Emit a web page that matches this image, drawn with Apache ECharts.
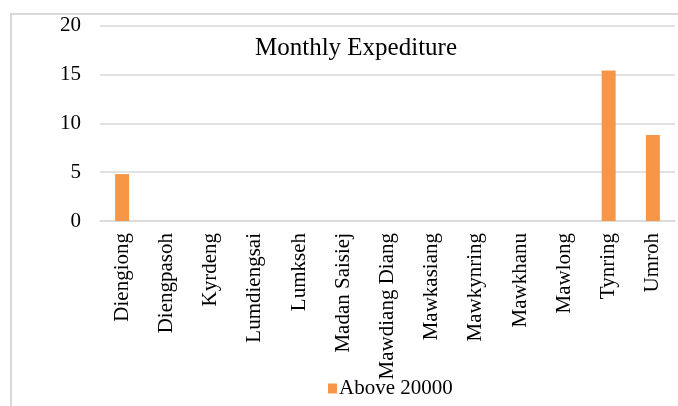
<!DOCTYPE html>
<html>
<head>
<meta charset="utf-8">
<script src="https://cdn.jsdelivr.net/npm/echarts@6/dist/echarts.min.js"></script>
<style>
  html, body { margin: 0; padding: 0; background: #fff; }
  #main { width: 678px; height: 406px; }
</style>
</head>
<body>
<div id="main"></div>
<script>
const categories = ["Diengiong", "Diengpasoh", "Kyrdeng", "Lumdiengsai", "Lumkseh", "Madan Saisiej",
  "Mawdiang Diang", "Mawkasiang", "Mawkynring", "Mawkhanu", "Mawlong", "Tynring", "Umroh"];
const above20000 = [4.8, 0, 0, 0, 0, 0, 0, 0, 0, 0, 0, 15.4, 8.8];
const yTicks = [0, 5, 10, 15, 20];

const font = "'Liberation Serif', 'DejaVu Serif', serif";
const chart = echarts.init(document.getElementById("main"));
chart.setOption({
  animation: false,
  textStyle: { fontFamily: font },
  graphic: [{
    type: "polyline",
    shape: { points: [[11, 420], [11, 14], [690, 14]] },
    style: { stroke: "#d9d9d9", lineWidth: 2, fill: null }
  }],
  title: {
    text: "Monthly Expediture",
    left: 351,
    top: 31,
    textAlign: "center",
    textStyle: { fontFamily: font, fontSize: 25, fontWeight: "normal", color: "#000" }
  },
  legend: {
    bottom: 2,
    left: 323,
    itemWidth: 9,
    itemHeight: 10,
    itemGap: 6,
    icon: "rect",
    textStyle: { fontFamily: font, fontSize: 21, color: "#000", padding: [0, 0, 0, -3] },
    data: ["Above 20000"]
  },
  grid: { left: 100, right: 3, top: 25.5, bottom: 185 },
  xAxis: {
    type: "category",
    data: categories,
    axisLine: { lineStyle: { color: "#d9d9d9", width: 1.5 } },
    axisTick: { show: false },
    axisLabel: {
      rotate: 90,
      interval: 0,
      margin: 12,
      fontFamily: font,
      fontSize: 21,
      color: "#000"
    }
  },
  yAxis: {
    type: "value",
    min: yTicks[0],
    max: yTicks[yTicks.length - 1],
    interval: 5,
    axisLine: { show: false },
    axisTick: { show: false },
    splitLine: { lineStyle: { color: "#d9d9d9", width: 1.5 } },
    axisLabel: { margin: 19, fontFamily: font, fontSize: 21, color: "#000" }
  },
  series: [{
    name: "Above 20000",
    type: "bar",
    data: above20000,
    barWidth: 14,
    itemStyle: { color: "#F79646" }
  }]
});
</script>
</body>
</html>
